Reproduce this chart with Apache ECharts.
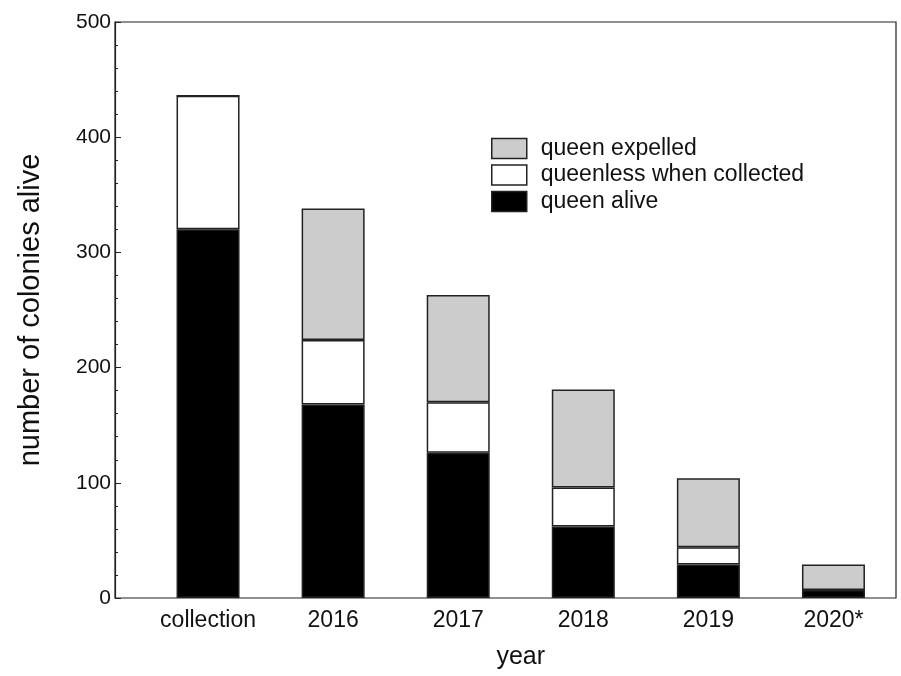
<!DOCTYPE html>
<html>
<head>
<meta charset="utf-8">
<script src="https://cdn.jsdelivr.net/npm/echarts@6/dist/echarts.min.js"></script>
<style>html,body{margin:0;padding:0;background:#fff}#c{width:901px;height:676px}</style>
</head>
<body>
<div id="c"></div>
<script>
var categories = ['collection', '2016', '2017', '2018', '2019', '2020*'];
var queenAlive = [320, 168, 126, 62, 29, 7];
var queenless = [116, 56, 44, 34, 15, 0];
var queenExpelled = [0, 114, 93, 85, 60, 22];
var yTicks = [0, 100, 200, 300, 400, 500];

var font = 'Liberation Sans, Arial, sans-serif';
var chart = echarts.init(document.getElementById('c'), null, {renderer: 'canvas'});
var barStyle = function (color) {
  return {color: color, borderColor: '#222', borderWidth: 1.5};
};
chart.setOption({
  animation: false,
  backgroundColor: '#fff',
  grid: [
    {left: 145.5, right: 5, top: 22, bottom: 78},
    {left: 115, right: 5, top: 22, bottom: 78, show: true, borderColor: '#222', borderWidth: 1.2, backgroundColor: 'transparent', z: 5}
  ],
  legend: {
    orient: 'vertical', left: 491, top: 137, padding: 0,
    icon: 'rect',
    itemWidth: 35, itemHeight: 20, itemGap: 3.5,
    itemStyle: {borderColor: '#222', borderWidth: 1.5},
    textStyle: {fontFamily: font, fontSize: 23, color: '#111', padding: [0, 0, 0, 9]},
    data: ['queen expelled', 'queenless when collected', 'queen alive']
  },
  xAxis: [
    {
      type: 'category', gridIndex: 0, data: categories, boundaryGap: true,
      axisLine: {show: false},
      axisTick: {show: false},
      axisLabel: {fontFamily: font, fontSize: 23, color: '#111', margin: 11},
      name: 'year', nameLocation: 'middle', nameGap: 47,
      nameTextStyle: {fontFamily: font, fontSize: 25, color: '#111'}
    },
    {type: 'value', gridIndex: 1, show: false}
  ],
  yAxis: [
    {
      type: 'value', gridIndex: 0, offset: 30.5,
      min: yTicks[0], max: yTicks[yTicks.length - 1], interval: 100,
      splitLine: {show: false},
      axisLine: {show: true, lineStyle: {color: '#222', width: 1.2}},
      axisTick: {show: true, inside: true, length: 6, lineStyle: {color: '#222'}},
      minorTick: {show: true, splitNumber: 5, length: 3, lineStyle: {color: '#222'}},
      axisLabel: {fontFamily: font, fontSize: 21, color: '#111', margin: 4},
      name: 'number of colonies alive', nameLocation: 'middle', nameGap: 70,
      nameTextStyle: {fontFamily: font, fontSize: 29, color: '#111'}
    },
    {type: 'value', gridIndex: 1, show: false}
  ],
  series: [
    {name: 'queen alive', type: 'bar', stack: 's', barWidth: 63, data: queenAlive, itemStyle: barStyle('#000')},
    {name: 'queenless when collected', type: 'bar', stack: 's', barWidth: 63, data: queenless, itemStyle: barStyle('#fff')},
    {name: 'queen expelled', type: 'bar', stack: 's', barWidth: 63, data: queenExpelled, itemStyle: barStyle('#cccccc')}
  ]
});
</script>
</body>
</html>
